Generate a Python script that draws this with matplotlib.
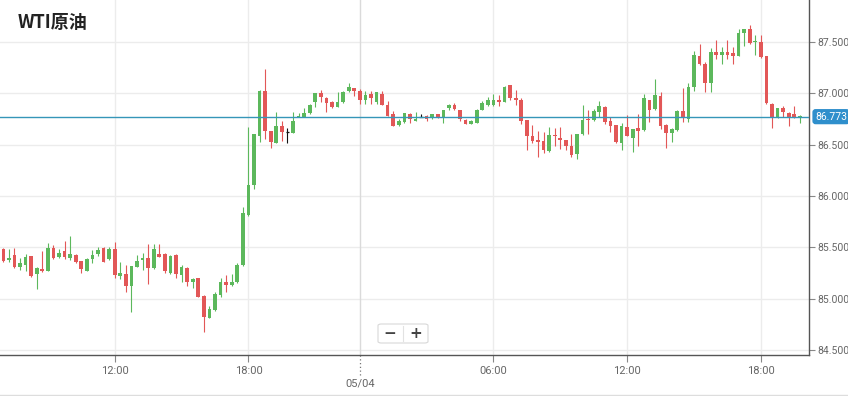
import matplotlib
matplotlib.use("Agg")
import matplotlib.pyplot as plt
from matplotlib.patches import Rectangle, FancyBboxPatch
from matplotlib.lines import Line2D
import matplotlib.transforms as mtrans

# ---- data: 15-minute candles (open, high, low, close) ----
opens = [85.48, 85.38, 85.43, 85.31, 85.33, 85.42, 85.24, 85.29, 85.27, 85.49,
         85.41, 85.46, 85.40, 85.43, 85.37, 85.27, 85.39, 85.44, 85.49, 85.39,
         85.48, 85.22, 85.24, 85.12, 85.31, 85.38, 85.40, 85.30, 85.44, 85.44,
         85.25, 85.43, 85.23, 85.30, 85.16, 85.20, 85.03, 84.81, 84.89, 85.04,
         85.16, 85.13, 85.16, 85.33, 85.82, 86.11, 86.58, 87.02, 86.63, 86.52,
         86.68, 86.62, 86.61, 86.77, 86.77, 86.81, 86.92, 87.00, 86.95, 86.92,
         86.87, 86.92, 87.02, 87.05, 87.02, 86.94, 86.99, 86.92, 86.99, 86.89,
         86.80, 86.69, 86.72, 86.80, 86.73, 86.77, 86.78, 86.77, 86.80, 86.76,
         86.86, 86.89, 86.84, 86.74, 86.70, 86.71, 86.84, 86.89, 86.89, 86.94,
         86.92, 87.08, 86.95, 86.94, 86.74, 86.58, 86.55, 86.54, 86.44, 86.59,
         86.57, 86.55, 86.49, 86.41, 86.60, 86.75, 86.74, 86.82, 86.87, 86.73,
         86.69, 86.52, 86.67, 86.57, 86.66, 86.64, 86.94, 86.85, 86.97, 86.69,
         86.61, 86.64, 86.83, 86.75, 87.06, 87.36, 87.29, 87.10, 87.40, 87.37,
         87.40, 87.39, 87.36, 87.59, 87.63, 87.50, 87.50, 87.36, 86.90, 86.77,
         86.86, 86.81, 86.80, 86.765]
highs = [85.49, 85.48, 85.49, 85.40, 85.44, 85.42, 85.31, 85.46, 85.54, 85.52,
         85.48, 85.56, 85.61, 85.44, 85.37, 85.40, 85.47, 85.50, 85.50, 85.50,
         85.55, 85.36, 85.33, 85.32, 85.43, 85.45, 85.53, 85.53, 85.53, 85.45,
         85.43, 85.44, 85.33, 85.31, 85.20, 85.20, 85.04, 84.93, 85.07, 85.20,
         85.23, 85.24, 85.35, 85.89, 86.67, 86.60, 87.03, 87.24, 86.63, 86.82,
         86.73, 86.66, 86.82, 86.81, 86.86, 86.90, 87.00, 87.03, 86.96, 86.93,
         87.01, 87.02, 87.10, 87.05, 87.04, 87.02, 87.02, 87.01, 87.02, 86.93,
         86.83, 86.75, 86.81, 86.81, 86.82, 86.80, 86.79, 86.80, 86.80, 86.84,
         86.90, 86.91, 86.84, 86.75, 86.74, 86.85, 86.93, 86.96, 86.99, 86.98,
         87.07, 87.08, 87.03, 86.95, 86.74, 86.69, 86.63, 86.62, 86.67, 86.66,
         86.67, 86.55, 86.60, 86.60, 86.89, 86.84, 86.85, 86.93, 86.88, 86.77,
         86.69, 86.71, 86.79, 86.65, 86.80, 86.99, 86.94, 87.14, 87.01, 86.70,
         86.66, 86.84, 87.05, 87.10, 87.41, 87.48, 87.31, 87.44, 87.52, 87.45,
         87.52, 87.45, 87.63, 87.63, 87.67, 87.57, 87.57, 87.36, 86.91, 86.86,
         86.88, 86.82, 86.88, 86.79]
lows = [85.36, 85.36, 85.30, 85.28, 85.27, 85.21, 85.09, 85.26, 85.27, 85.39,
        85.40, 85.39, 85.38, 85.35, 85.25, 85.27, 85.35, 85.42, 85.36, 85.38,
        85.20, 85.19, 85.07, 84.87, 85.31, 85.28, 85.14, 85.29, 85.41, 85.25,
        85.24, 85.20, 85.16, 85.12, 85.10, 85.02, 84.68, 84.81, 84.88, 85.02,
        85.07, 85.12, 85.15, 85.32, 85.81, 86.07, 86.53, 86.56, 86.47, 86.52,
        86.54, 86.52, 86.61, 86.77, 86.77, 86.80, 86.87, 86.92, 86.82, 86.86,
        86.87, 86.91, 87.01, 86.97, 86.90, 86.90, 86.90, 86.90, 86.89, 86.78,
        86.68, 86.68, 86.71, 86.71, 86.73, 86.77, 86.73, 86.75, 86.76, 86.71,
        86.84, 86.84, 86.73, 86.70, 86.70, 86.71, 86.84, 86.88, 86.88, 86.88,
        86.92, 86.94, 86.89, 86.70, 86.45, 86.52, 86.38, 86.42, 86.43, 86.49,
        86.46, 86.45, 86.38, 86.36, 86.59, 86.60, 86.73, 86.77, 86.70, 86.62,
        86.52, 86.45, 86.58, 86.43, 86.49, 86.63, 86.72, 86.84, 86.65, 86.47,
        86.53, 86.63, 86.72, 86.72, 87.02, 87.28, 87.01, 87.01, 87.33, 87.29,
        87.33, 87.29, 87.36, 87.46, 87.48, 87.37, 87.34, 86.90, 86.66, 86.76,
        86.77, 86.68, 86.76, 86.71]
closes = [85.37, 85.40, 85.31, 85.35, 85.41, 85.22, 85.30, 85.27, 85.49, 85.40,
          85.45, 85.41, 85.44, 85.36, 85.29, 85.39, 85.43, 85.47, 85.36, 85.48,
          85.23, 85.25, 85.12, 85.32, 85.37, 85.40, 85.30, 85.48, 85.41, 85.27,
          85.42, 85.24, 85.31, 85.16, 85.19, 85.02, 84.82, 84.90, 85.05, 85.16,
          85.13, 85.16, 85.33, 85.83, 86.11, 86.60, 87.02, 86.63, 86.53, 86.68,
          86.62, 86.62, 86.73, 86.78, 86.81, 86.89, 87.00, 86.96, 86.91, 86.87,
          86.92, 87.01, 87.06, 87.02, 86.94, 86.98, 86.95, 87.01, 86.89, 86.78,
          86.68, 86.73, 86.81, 86.75, 86.75, 86.77, 86.75, 86.80, 86.77, 86.84,
          86.89, 86.85, 86.75, 86.70, 86.73, 86.84, 86.91, 86.94, 86.94, 86.92,
          87.06, 86.95, 86.94, 86.73, 86.58, 86.54, 86.53, 86.45, 86.59, 86.58,
          86.55, 86.49, 86.40, 86.60, 86.74, 86.74, 86.83, 86.88, 86.72, 86.68,
          86.53, 86.68, 86.58, 86.65, 86.63, 86.95, 86.84, 86.98, 86.68, 86.61,
          86.65, 86.83, 86.77, 87.06, 87.37, 87.29, 87.10, 87.40, 87.37, 87.40,
          87.37, 87.36, 87.59, 87.63, 87.49, 87.51, 87.35, 86.91, 86.77, 86.86,
          86.82, 86.77, 86.77, 86.773]

last_price = 86.773
tick_index = [20, 44, 88, 112, 136]
tick_labels = ["12:00", "18:00", "06:00", "12:00", "18:00"]
date_index = 64
date_label = "05/04"
y_ticks = [84.5, 85.0, 85.5, 86.0, 86.5, 87.0, 87.5]
title = "WTI原油"

# ---- style ----
UP = "#5cb85c"
DOWN = "#e25757"
FLAT = "#111111"
LINE = "#3596b8"
GRID = "#ececec"
TXT = "#666666"
W, H = 848, 396

plt.rcParams["font.family"] = ["Roboto", "DejaVu Sans"]
fig = plt.figure(figsize=(W / 100, H / 100), dpi=100)
ax = fig.add_axes([0, 1 - 355 / H, 809 / W, 355 / H])
ax.set_xlim(-0.6, 144.65)
ax.set_ylim(84.452, 87.909)

for y in y_ticks:
    ax.axhline(y, color=GRID, lw=1, zorder=0)
for xi in tick_index:
    ax.axvline(xi, color=GRID, lw=1, zorder=0)
ax.axvline(date_index, color="#dadada", lw=1, zorder=0)

for i, (o, h, l, c) in enumerate(zip(opens, highs, lows, closes)):
    col = UP if c > o else (DOWN if c < o else FLAT)
    ax.vlines(i, l, h, color=col, lw=0.8, zorder=2)
    lo = min(o, c)
    ht = max(abs(c - o), 0.012)
    if c == o:
        ax.hlines(o, i - 0.3, i + 0.3, color=col, lw=0.9, zorder=3)
    else:
        ax.add_patch(Rectangle((i - 0.33, lo), 0.66, ht, facecolor=col,
                               edgecolor="none", zorder=3))

ax.axhline(last_price, color=LINE, lw=1.0, zorder=4)

# axes
for s in ["top", "left"]:
    ax.spines[s].set_visible(False)
ax.spines["right"].set_color("#555555")
ax.spines["bottom"].set_color("#555555")
ax.spines["right"].set_linewidth(1)
ax.spines["bottom"].set_linewidth(1)
ax.yaxis.tick_right()
ax.set_yticks(y_ticks)
ax.set_yticklabels([f"{v:.3f}" for v in y_ticks])
ax.tick_params(axis="y", length=4, width=0.8, color="#888888", labelsize=7.5,
               labelcolor=TXT, pad=2)
ax.set_xticks(tick_index)
ax.set_xticklabels(tick_labels)
ax.tick_params(axis="x", length=5, width=0.8, color="#888888", labelsize=8,
               labelcolor=TXT, pad=3)

bt = mtrans.blended_transform_factory(ax.transData, ax.transAxes)
ax.plot([date_index, date_index], [0, -0.055], ls=(0, (1, 2)), color="#777777",
        lw=0.9, transform=bt, clip_on=False)
ax.text(date_index, -0.066, date_label, transform=bt, ha="center", va="top",
        fontsize=8, color=TXT)

# last price label
lt = mtrans.blended_transform_factory(ax.transAxes, ax.transData)
ax.text(1.0 + 6 / 809, last_price, f"{last_price:.3f}", transform=lt,
        ha="left", va="center", fontsize=7.5, color="white", zorder=6,
        bbox=dict(boxstyle="round,pad=0.25,rounding_size=0.3", fc="#2f8fcc", ec="none"))

# title
fig.text(18 / W, 1 - 22 / H, title, fontsize=13, fontweight="bold",
         family=["Noto Sans CJK SC", "DejaVu Sans"], va="center", ha="left",
         color="#222222")

# zoom buttons
box = FancyBboxPatch((378 / W, 1 - 343 / H), 50 / W, 19 / H,
                     boxstyle="round,pad=0,rounding_size=0.004",
                     transform=fig.transFigure, fc="white", ec="#d8d8d8", lw=0.8)
fig.add_artist(box)
fig.add_artist(Line2D([403 / W, 403 / W], [1 - 341 / H, 1 - 326 / H],
                      transform=fig.transFigure, color="#e2e2e2", lw=0.8))
fig.text(390 / W, 1 - 333.5 / H, "−", fontsize=11, fontweight="bold",
         ha="center", va="center", color="#444444", family=["DejaVu Sans"])
fig.text(416 / W, 1 - 333.5 / H, "+", fontsize=11, fontweight="bold",
         ha="center", va="center", color="#444444", family=["DejaVu Sans"])

# bottom border
fig.add_artist(Line2D([0, 1], [0.8 / H, 0.8 / H], transform=fig.transFigure,
                      color="#dddddd", lw=1))

fig.savefig("out.png", dpi=100)
